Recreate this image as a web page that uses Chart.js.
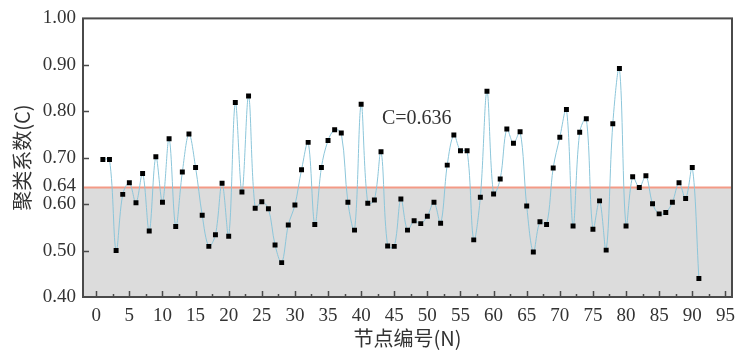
<!DOCTYPE html>
<html>
<head>
<meta charset="utf-8">
<script src="https://cdn.jsdelivr.net/npm/chart.js@4/dist/chart.umd.min.js"></script>
<style>
  html, body { margin: 0; padding: 0; background: #ffffff; }
  #wrap { width: 743px; height: 350px; position: relative; }
</style>
</head>
<body>
<div id="wrap"><canvas id="c" width="743" height="350"></canvas></div>
<script>
// ---- data ----
const nodeIds = [];
for (let i = 1; i <= 91; i++) nodeIds.push(i);
const clusterValues = [
  0.696, 0.696, 0.500, 0.621, 0.646, 0.603, 0.666, 0.542, 0.702, 0.604,
  0.741, 0.552, 0.669, 0.751, 0.679, 0.576, 0.509, 0.534, 0.645, 0.531,
  0.819, 0.626, 0.833, 0.591, 0.605, 0.590, 0.512, 0.474, 0.555, 0.598,
  0.674, 0.733, 0.556, 0.679, 0.737, 0.760, 0.753, 0.604, 0.544, 0.815,
  0.602, 0.609, 0.713, 0.510, 0.509, 0.611, 0.544, 0.564, 0.558, 0.574,
  0.604, 0.559, 0.684, 0.749, 0.715, 0.715, 0.523, 0.615, 0.843, 0.622,
  0.654, 0.762, 0.731, 0.756, 0.596, 0.497, 0.562, 0.556, 0.678, 0.744,
  0.804, 0.553, 0.755, 0.784, 0.546, 0.607, 0.501, 0.773, 0.892, 0.553,
  0.659, 0.636, 0.661, 0.601, 0.579, 0.582, 0.604, 0.646, 0.612, 0.679,
  0.440
];
const meanC = 0.636;
const meanLabel = 'C=0.636';
const xRange = [-2, 96];
const yRange = [0.40, 1.00];
const xTickValues = [0,5,10,15,20,25,30,35,40,45,50,55,60,65,70,75,80,85,90,95];
const xMinorTickValues = [2.5,7.5,12.5,17.5,22.5,27.5,32.5,37.5,42.5,47.5,52.5,57.5,62.5,67.5,72.5,77.5,82.5,87.5,92.5];
const yTickValues = [0.40, 0.50, 0.60, 0.64, 0.70, 0.80, 0.90, 1.00];
const yMarkTickValues = [0.50, 0.60, 0.70, 0.80, 0.90];
const xTitle = '节点编号(N)';
const yTitle = '聚类系数(C)';

// ---- build ----
const seriesPoints = nodeIds.map((n, i) => ({ x: n, y: clusterValues[i] }));
const meanPoints = [{ x: xRange[0], y: meanC }, { x: xRange[1], y: meanC }];

const SERIF = '"Liberation Serif", "DejaVu Serif", serif';
const CJK = '"Noto Sans CJK SC", "Noto Sans", sans-serif';
const TEXT = '#333333';

const framePlugin = {
  id: 'frameTicks',
  afterDraw(chart) {
    const { ctx, chartArea: a, scales } = chart;
    const xs = scales.x, ys = scales.y;
    ctx.save();
    ctx.strokeStyle = '#4a4a4a';
    ctx.lineWidth = 1.5;
    ctx.beginPath();
    xTickValues.forEach(v => {
      const px = Math.round(xs.getPixelForValue(v)) + 0.5;
      ctx.moveTo(px, a.bottom); ctx.lineTo(px, a.bottom - 6);
    });
    xMinorTickValues.forEach(v => {
      const px = Math.round(xs.getPixelForValue(v)) + 0.5;
      ctx.moveTo(px, a.bottom); ctx.lineTo(px, a.bottom - 3);
    });
    yMarkTickValues.forEach(v => {
      const py = Math.round(ys.getPixelForValue(v)) + 0.5;
      ctx.moveTo(a.left, py); ctx.lineTo(a.left + 6, py);
    });
    ctx.stroke();
    ctx.lineWidth = 2;
    ctx.strokeRect(a.left, a.top, a.right - a.left, a.bottom - a.top);
    // annotation
    ctx.fillStyle = TEXT;
    ctx.font = '20px ' + SERIF;
    ctx.textAlign = 'center';
    ctx.textBaseline = 'middle';
    ctx.fillText(meanLabel, xs.getPixelForValue(48.4), ys.getPixelForValue(0.784));
    ctx.restore();
  }
};

new Chart(document.getElementById('c'), {
  type: 'line',
  data: {
    datasets: [
      {
        label: 'C',
        data: seriesPoints,
        borderColor: '#8cc6da',
        borderWidth: 1,
        tension: 0.35,
        pointStyle: 'rect',
        pointRadius: 3.5,
        pointBorderWidth: 0,
        pointBackgroundColor: '#000000',
        pointBorderColor: '#000000',
        fill: false,
        order: 1
      },
      {
        label: 'mean',
        data: meanPoints,
        borderColor: '#f39a86',
        borderWidth: 2,
        pointRadius: 0,
        backgroundColor: '#dcdcdc',
        fill: 'start',
        tension: 0,
        order: 2
      }
    ]
  },
  options: {
    responsive: false,
    animation: false,
    events: [],
    layout: { padding: { top: 17, right: 11, left: 0, bottom: 0 } },
    plugins: { legend: { display: false }, tooltip: { enabled: false } },
    scales: {
      x: {
        type: 'linear',
        min: xRange[0],
        max: xRange[1],
        grid: { display: false, drawTicks: false },
        border: { display: false },
        afterBuildTicks: s => { s.ticks = xTickValues.map(v => ({ value: v })); },
        afterFit: s => { s.height = 53; },
        ticks: {
          autoSkip: false,
          maxRotation: 0,
          padding: 8,
          color: TEXT,
          font: { family: SERIF, size: 19 },
          callback: v => String(v)
        },
        title: {
          display: true,
          text: xTitle,
          color: TEXT,
          font: { family: CJK, size: 20 },
          padding: { top: 0, bottom: 0 }
        }
      },
      y: {
        type: 'linear',
        min: yRange[0],
        max: yRange[1],
        grid: { display: false, drawTicks: false },
        border: { display: false },
        afterBuildTicks: s => { s.ticks = yTickValues.map(v => ({ value: v })); },
        afterFit: s => { s.width = 83; },
        ticks: {
          autoSkip: false,
          padding: 7,
          color: TEXT,
          font: { family: SERIF, size: 19 },
          callback: v => Number(v).toFixed(2)
        },
        title: {
          display: true,
          text: yTitle,
          color: TEXT,
          font: { family: CJK, size: 20 },
          padding: { top: 10, bottom: 0 }
        }
      }
    }
  },
  plugins: [framePlugin]
});
</script>
</body>
</html>
